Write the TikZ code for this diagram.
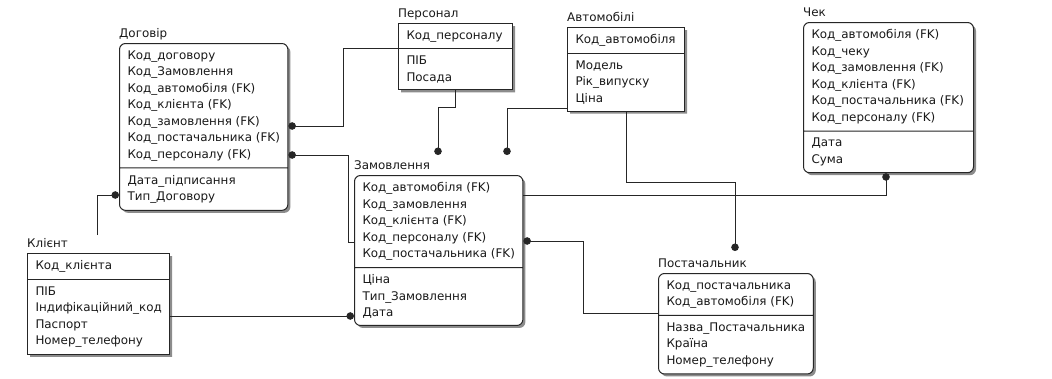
\documentclass[tikz,border=0pt]{standalone}
\usepackage{fontspec}
\setmainfont{DejaVu Sans}
\usetikzlibrary{shapes.multipart, arrows.meta, shadows, positioning}

\begin{document}
\begin{tikzpicture}[
    x=1pt, y=-1pt,
    font=\fontsize{11.9}{16.5}\selectfont,
    entity/.style={rectangle split, rectangle split parts=2, draw=black!85, line width=1pt,
                   fill=white, anchor=north west, align=left, inner xsep=8pt, inner ysep=6.5pt,
                   rectangle split part align={left}, text=black!90,
                   drop shadow={shadow xshift=2.5pt, shadow yshift=-2.5pt, fill=black!45, opacity=1}},
    dep/.style={entity, rounded corners=6pt},
    ttl/.style={anchor=base west, inner sep=0pt, text=black!90},
    rel/.style={-{Circle[length=7.5pt]}, line width=0.9pt, draw=black!85}
]
\useasboundingbox (0,0) rectangle (1052,378);

% Entities
\node[dep, minimum width=168pt] (dog) at (119,43)
    {Код\_договору\\Код\_Замовлення\\Код\_автомобіля (FK)\\Код\_клієнта (FK)\\Код\_замовлення (FK)\\Код\_постачальника (FK)\\Код\_персоналу (FK)
     \nodepart{two} Дата\_підписання\\Тип\_Договору};
\node[entity, minimum width=114pt] (pers) at (398,23)
    {Код\_персоналу \nodepart{two} ПІБ\\Посада};
\node[entity, minimum width=117pt] (avto) at (567,27)
    {Код\_автомобіля \nodepart{two} Модель\\Рік\_випуску\\Ціна};
\node[dep, minimum width=170pt] (cek) at (803,22)
    {Код\_автомобіля (FK)\\Код\_чеку\\Код\_замовлення (FK)\\Код\_клієнта (FK)\\Код\_постачальника (FK)\\Код\_персоналу (FK)
     \nodepart{two} Дата\\Сума};
\node[entity, minimum width=140pt] (kli) at (27,253)
    {Код\_клієнта \nodepart{two} ПІБ\\Індифікаційний\_код\\Паспорт\\Номер\_телефону};
\node[dep, minimum width=168pt] (zam) at (354,175)
    {Код\_автомобіля (FK)\\Код\_замовлення\\Код\_клієнта (FK)\\Код\_персоналу (FK)\\Код\_постачальника (FK)
     \nodepart{two} Ціна\\Тип\_Замовлення\\Дата};
\node[dep, minimum width=154pt] (post) at (658,273)
    {Код\_постачальника\\Код\_автомобіля (FK)
     \nodepart{two} Назва\_Постачальника\\Країна\\Номер\_телефону};

% Entity names
\node[ttl] (dogt)  at ([yshift=6pt]dog.north west)  {Договір};
\node[ttl] (perst) at ([yshift=6pt]pers.north west) {Персонал};
\node[ttl] (avtot) at ([yshift=6pt]avto.north west) {Автомобілі};
\node[ttl] (cekt)  at ([yshift=6pt]cek.north west)  {Чек};
\node[ttl] (klit)  at ([yshift=6pt]kli.north west)  {Клієнт};
\node[ttl] (zamt)  at ([yshift=6pt]zam.north west)  {Замовлення};
\node[ttl] (postt) at ([yshift=6pt]post.north west) {Постачальник};

% Relationships
\draw[rel] ([yshift=-25pt]pers.north west) -- ++(-55,0) |- ([yshift=-83pt]dog.north east);
\draw[rel] ([yshift=-67pt]zam.north west) -- ++(-6,0) |- ([yshift=-112pt]dog.north east);
\draw[rel] ([xshift=57pt]pers.south west) -- ++(0,17) -| ([xshift=84pt,yshift=20pt]zam.north west);
\draw[rel] ([yshift=-81pt]avto.north west) -| ([xshift=153pt,yshift=20pt]zam.north west);
\draw[rel] ([xshift=59pt]avto.south west) -- ++(0,71) -| ([xshift=77pt,yshift=22pt]post.north west);
\draw[rel] ([yshift=-20pt]zam.north east) -| ([xshift=83pt]cek.south west);
\draw[rel] ([yshift=-40pt]post.north west) -- ++(-75,0) |- ([yshift=-66pt]zam.north east);
\draw[rel] ([xshift=70pt,yshift=18pt]kli.north west) |- ([yshift=-152pt]dog.north west);
\draw[rel] ([yshift=-63pt]kli.north east) -- ([yshift=-141pt]zam.north west);

\end{tikzpicture}
\end{document}
